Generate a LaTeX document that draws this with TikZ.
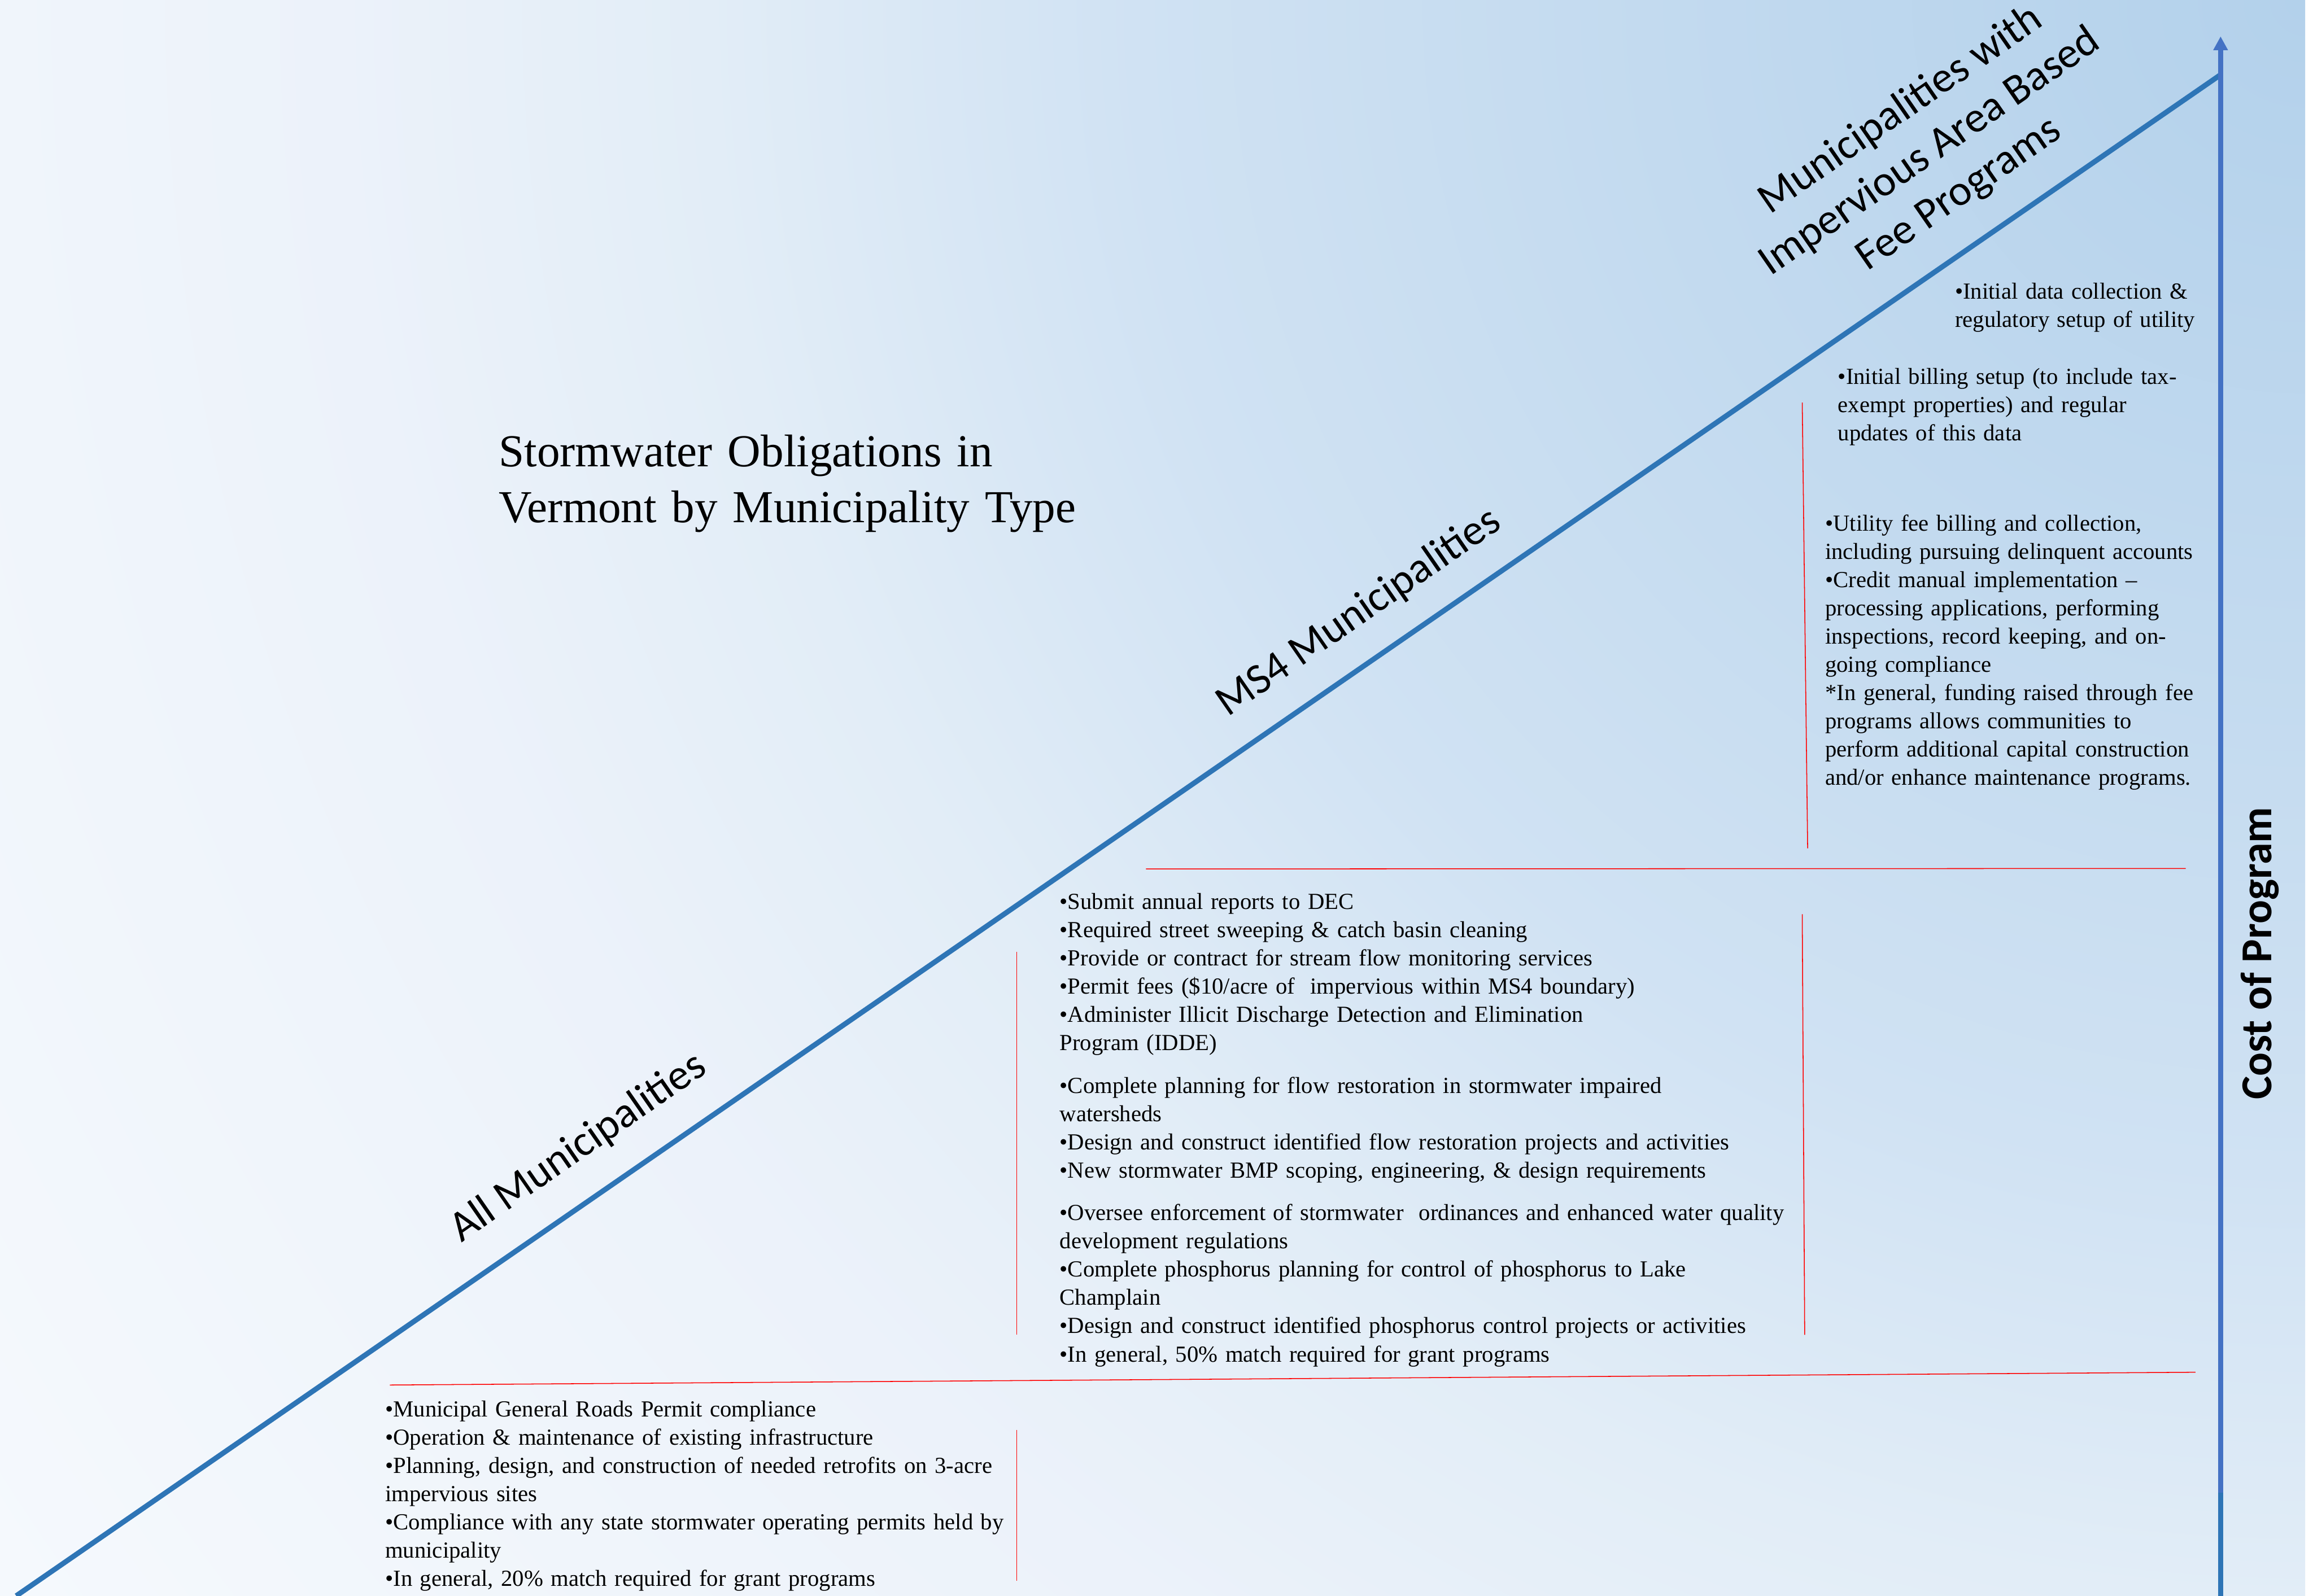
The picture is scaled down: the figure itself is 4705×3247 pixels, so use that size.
\documentclass[tikz,border=0pt]{standalone}
\usepackage{fontspec}
\setmainfont{Liberation Serif}
\newfontfamily\labelfont{Carlito}
\usetikzlibrary{arrows.meta}

\definecolor{diagblue}{HTML}{2E75B6}
\definecolor{axisblue}{HTML}{4472C4}
\definecolor{ruled}{HTML}{FF0000}
\definecolor{bg0}{HTML}{B3D1EB}
\definecolor{bg1}{HTML}{C6DCF0}
\definecolor{bg2}{HTML}{D0E2F3}
\definecolor{bg3}{HTML}{E2EDF7}
\definecolor{bg4}{HTML}{ECF2FA}
\definecolor{bg5}{HTML}{F0F5FB}
\definecolor{bg6}{HTML}{F5F9FD}

% soft glow from the upper right corner (25bp = radius of the shaded circle)
\pgfdeclareradialshading{bgglow}{\pgfpoint{0bp}{0bp}}{%
  color(0bp)=(bg0); color(6.9bp)=(bg1); color(10.25bp)=(bg2);
  color(14bp)=(bg3); color(17.25bp)=(bg4); color(20.25bp)=(bg5);
  color(24.5bp)=(bg6); color(50bp)=(bg6)}

\begin{document}
\begin{tikzpicture}[x=0.01cm, y=-0.01cm,
  bodytext/.style={anchor=base west, inner sep=0pt, align=left,
    font=\fontsize{13.3pt}{16.36pt}\selectfont},
  titletext/.style={anchor=base west, inner sep=0pt, align=left, text width=14cm,
    font=\fontsize{26.5pt}{32.4pt}\selectfont},
  diaglabel/.style={rotate=34.7, inner sep=0pt,
    font=\labelfont\fontsize{25pt}{29.6pt}\selectfont},
  divider/.style={draw=ruled, line width=0.5pt},
  diagline/.style={draw=diagblue, line width=3pt},
  costaxis/.style={draw=axisblue, line width=2.85pt,
    -{Triangle[width=0.28cm, length=0.28cm]}}]

\useasboundingbox (0,0) rectangle (4705,3247);
\fill[white] (0,0) rectangle (4705,3247);
\begin{scope}
  \clip (0,0) rectangle (4689,3247);
  \shade[shading=bgglow] (4689,0) circle (58cm);
\end{scope}

% axes
\coordinate (origin) at (33,3247);
\coordinate (peak) at (4517,152);
\coordinate (axisfoot) at (4517,3260);
\coordinate (axisjoin) at (4517,3037);
\coordinate (axistop) at (4517,74);
\draw[diagline] (origin) -- (peak);
\draw[costaxis] (axisfoot) -- (axistop);
\draw[diagblue, line width=2.85pt] (axisjoin) -- (axisfoot);

% red dividers
\draw[divider] (2331,1768) -- (4446,1767);
\draw[divider] (3666,819) -- (3677,1726);
\draw[divider] (793,2818) -- (4466,2792);
\draw[divider] (2068,1937) -- (2068,2716);
\draw[divider] (3666,1860) -- (3671,2716);
\draw[divider] (2068,2909) -- (2068,3216);

% title
\node[titletext] (title) at (1014,949)
  {Stormwater Obligations in\\Vermont by Municipality Type};

% labels along the rising line
\node[diaglabel, anchor=base] (allmun) at (1190,2355) {All Municipalities};
\node[diaglabel, anchor=base] (ms4mun) at (2778,1266) {MS4 Municipalities};
\node[diaglabel, align=center, anchor=center] (feemun) at (3926,310)
  {Municipalities with\\Impervious Area Based\\Fee Programs};

% vertical axis label
\node[rotate=90, anchor=base, inner sep=0pt,
  font=\labelfont\bfseries\fontsize{25.5pt}{30pt}\selectfont] (cost) at (4620,1940)
  {Cost of Program};

% obligations of all municipalities
\node[bodytext, text width=14cm] (allduties) at (783,2882)
  {•Municipal General Roads Permit compliance\\
   •Operation \& maintenance of existing infrastructure\\
   •Planning, design, and construction of needed retrofits on 3-acre\\
   impervious sites\\
   •Compliance with any state stormwater operating permits held by\\
   municipality\\
   •In general, 20\% match required for grant programs};

% obligations of MS4 municipalities
\node[bodytext, text width=16cm] (ms4duties) at (2155,1850)
  {•Submit annual reports to DEC\\
   •Required street sweeping \& catch basin cleaning\\
   •Provide or contract for stream flow monitoring services\\
   •Permit fees (\$10/acre of~ impervious within MS4 boundary)\\
   •Administer Illicit Discharge Detection and Elimination\\
   Program (IDDE)\\[8.2pt]
   •Complete planning for flow restoration in stormwater impaired\\
   watersheds\\
   •Design and construct identified flow restoration projects and activities\\
   •New stormwater BMP scoping, engineering, \& design requirements\\[8.2pt]
   •Oversee enforcement of stormwater~ ordinances and enhanced water quality\\
   development regulations\\
   •Complete phosphorus planning for control of phosphorus to Lake\\
   Champlain\\
   •Design and construct identified phosphorus control projects or activities\\
   •In general, 50\% match required for grant programs};

% obligations of fee-program municipalities
\node[bodytext, text width=9cm] (feesetup) at (3976,608)
  {•Initial data collection \&\\regulatory setup of utility};
\node[bodytext, text width=9cm] (feebilling) at (3738,782)
  {•Initial billing setup (to include tax-\\exempt properties) and regular\\updates of this data};
\node[bodytext, text width=9cm] (feeongoing) at (3712,1080)
  {•Utility fee billing and collection,\\
   including pursuing delinquent accounts\\
   •Credit manual implementation --\\
   processing applications, performing\\
   inspections, record keeping, and on-\\
   going compliance\\
   {*}In general, funding raised through fee\\
   programs allows communities to\\
   perform additional capital construction\\
   and/or enhance maintenance programs.};
\end{tikzpicture}
\end{document}
